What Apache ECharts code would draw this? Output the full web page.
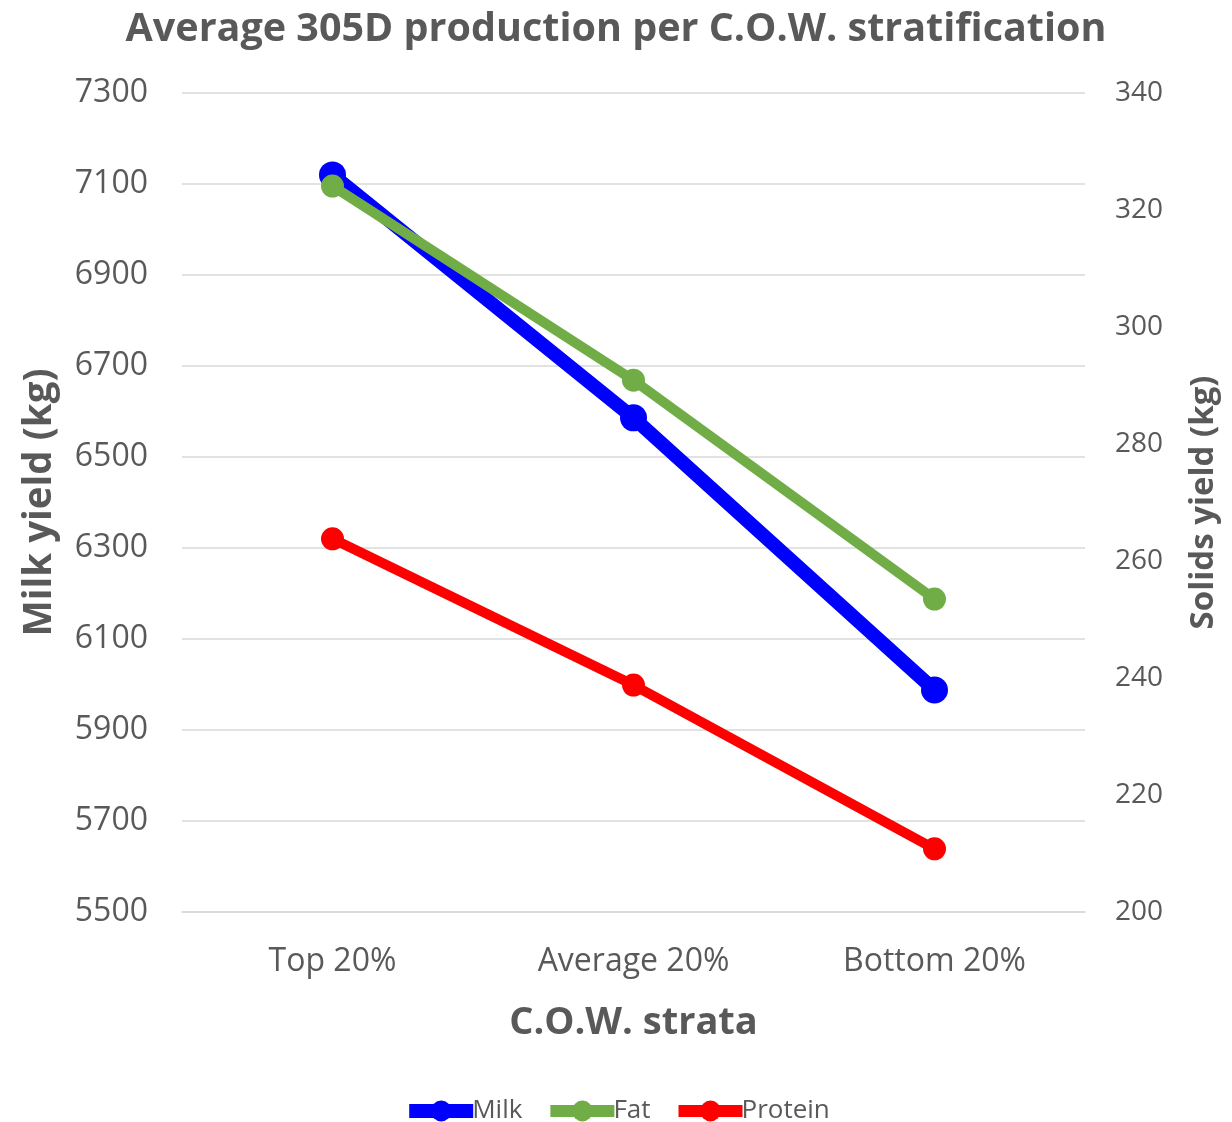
<!DOCTYPE html>
<html><head><meta charset="utf-8">
<script src="https://cdn.jsdelivr.net/npm/echarts@6/dist/echarts.min.js"></script>
<style>html,body{margin:0;padding:0;background:#fff}#c{width:1232px;height:1122px}</style>
</head><body><div id="c"></div>
<script>
const categories = ['Top 20%', 'Average 20%', 'Bottom 20%'];
const milk = [7120, 6586, 5988];
const fat = [324.1, 290.9, 253.5];
const protein = [263.8, 238.8, 210.8];
const FONT = '"Open Sans", "Liberation Sans", sans-serif';
const GREY = '#595959';
const chart = echarts.init(document.getElementById('c'));
chart.setOption({
  animation: false,
  textStyle: { fontFamily: FONT },
  title: {
    text: 'Average 305D production per C.O.W. stratification',
    left: 'center', top: 5,
    textStyle: { fontFamily: FONT, fontSize: 39.5, fontWeight: 'bold', color: GREY }
  },
  legend: {
    top: 1093, left: 'center', itemGap: 22,
    itemWidth: 64, itemHeight: 26,
    textStyle: { fontFamily: FONT, fontSize: 26, color: GREY, padding: [0, 0, 0, -6] },
    data: [
      { name: 'Milk', lineStyle: { width: 14 } },
      { name: 'Fat', lineStyle: { width: 12 } },
      { name: 'Protein', lineStyle: { width: 12 } }
    ]
  },
  grid: { left: 182, right: 147, top: 93, bottom: 210 },
  xAxis: {
    type: 'category', data: categories, boundaryGap: true,
    axisLine: { lineStyle: { color: '#d9d9d9', width: 1.5 } },
    axisTick: { show: false },
    axisLabel: { fontSize: 32, color: GREY, margin: 34, fontFamily: FONT },
    name: 'C.O.W. strata', nameLocation: 'middle', nameGap: 92,
    nameTextStyle: { fontSize: 38, fontWeight: 'bold', color: GREY, fontFamily: FONT }
  },
  yAxis: [{
    type: 'value', min: 5500, max: 7300, interval: 200,
    axisLine: { show: false }, axisTick: { show: false },
    splitLine: { lineStyle: { color: '#d9d9d9', width: 1.5 } },
    axisLabel: { fontSize: 32, color: GREY, margin: 34, fontFamily: FONT, formatter: v => String(v) },
    name: 'Milk yield (kg)', nameLocation: 'middle', nameGap: 122,
    nameTextStyle: { fontSize: 38.5, fontWeight: 'bold', color: GREY, fontFamily: FONT }
  }, {
    type: 'value', min: 200, max: 340, interval: 20,
    axisLine: { show: false }, axisTick: { show: false },
    splitLine: { show: false },
    axisLabel: { fontSize: 28, color: GREY, margin: 30, fontFamily: FONT, formatter: v => String(v) },
    name: 'Solids yield (kg)', nameLocation: 'middle', nameGap: 102,
    nameTextStyle: { fontSize: 33, fontWeight: 'bold', color: GREY, fontFamily: FONT }
  }],
  series: [{
    name: 'Milk', type: 'line', data: milk, yAxisIndex: 0,
    symbol: 'circle', symbolSize: 27,
    lineStyle: { color: '#0000FF', width: 14 }, itemStyle: { color: '#0000FF' }
  }, {
    name: 'Fat', type: 'line', data: fat, yAxisIndex: 1,
    symbol: 'circle', symbolSize: 23,
    lineStyle: { color: '#70AD47', width: 10 }, itemStyle: { color: '#70AD47' }
  }, {
    name: 'Protein', type: 'line', data: protein, yAxisIndex: 1,
    symbol: 'circle', symbolSize: 23,
    lineStyle: { color: '#FF0000', width: 10 }, itemStyle: { color: '#FF0000' }
  }]
});
</script></body></html>
